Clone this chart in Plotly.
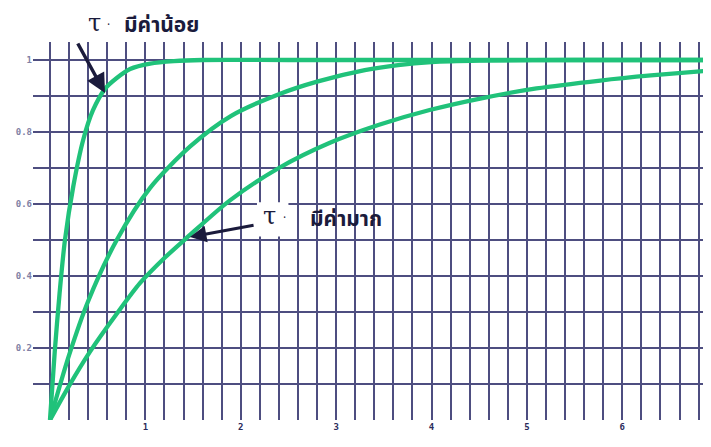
import plotly.graph_objects as go

# ---- data ----
fast_x = [0, 0.05, 0.10, 0.157, 0.245, 0.35, 0.45, 0.577, 0.70, 0.84, 1.05, 1.30, 1.60, 2.5, 4.0, 5.5, 7.0]
fast_y = [0, 0.19, 0.35, 0.50, 0.65, 0.78, 0.86, 0.92, 0.95, 0.975, 0.99, 0.997, 1.0, 1.0, 1.0, 1.0, 1.0]

mid_x = [0, 0.2, 0.4, 0.7, 1.05, 1.47, 1.9, 2.4, 2.8, 3.3, 3.65, 4.0, 4.5, 5.5, 7.0]
mid_y = [0, 0.18, 0.33, 0.50, 0.645, 0.76, 0.845, 0.905, 0.94, 0.972, 0.986, 0.994, 0.998, 1.0, 1.0]

slow_x = [0, 0.2, 0.42, 0.7, 0.943, 1.2, 1.43, 1.887, 2.4, 2.935, 3.45, 3.98, 4.51, 5.1, 5.77, 6.3, 6.93]
slow_y = [0, 0.095, 0.19, 0.295, 0.38, 0.45, 0.505, 0.61, 0.70, 0.77, 0.82, 0.861, 0.893, 0.921, 0.943, 0.957, 0.971]

x_grid = [round(i * 0.2, 1) for i in range(0, 35)]
x_labels = ["1", "2", "3", "4", "5", "6"]
y_grid = [round(i * 0.1, 1) for i in range(0, 11)]
y_labels = {0.2: "0.2", 0.4: "0.4", 0.6: "0.6", 0.8: "0.8", 1.0: "1"}

label_small = "มีค่าน้อย"
label_large = "มีค่ามาก"
tau = "τ"

GREEN = "#20c27a"
GRID = "#4e4e80"
INK = "#1b1b3c"

fig = go.Figure()
for xs, ys in [(slow_x, slow_y), (mid_x, mid_y), (fast_x, fast_y)]:
    fig.add_trace(go.Scatter(x=xs, y=ys, mode="lines",
                             line=dict(color=GREEN, width=4.3, shape="spline", smoothing=0.8),
                             hoverinfo="skip", showlegend=False))

x_text = []
for v in x_grid:
    if abs(v - round(v)) < 1e-9 and 1 <= round(v) <= 6:
        x_text.append("<b>" + x_labels[int(round(v)) - 1] + "</b>")
    else:
        x_text.append("")
y_text = ["<b>" + y_labels[v] + "</b>" if v in y_labels else "" for v in y_grid]

fig.update_xaxes(range=[-0.178, 6.93], tickmode="array", tickvals=x_grid, ticktext=x_text,
                 showgrid=True, gridcolor=GRID, gridwidth=1.7, zeroline=False, showline=False,
                 ticks="", tickfont=dict(family="DejaVu Sans Mono", size=9, color="#2c2c5c"),
                 fixedrange=True)
fig.update_yaxes(range=[0, 1.05], tickmode="array", tickvals=y_grid, ticktext=y_text,
                 showgrid=True, gridcolor=GRID, gridwidth=1.7, zeroline=False, showline=False,
                 ticks="", tickfont=dict(family="DejaVu Sans Mono", size=9, color="#8080a4"),
                 fixedrange=True)

# white patch behind the lower tau
fig.add_shape(type="rect", xref="x", yref="y", x0=2.17, x1=2.50, y0=0.51, y1=0.605,
              fillcolor="white", line=dict(width=0), layer="above")

thai_font = dict(family="Noto Sans Thai, Loma, Garuda, Tahoma, Noto Sans, sans-serif", size=21, color=INK)
tau_font = dict(family="DejaVu Serif, serif", size=24, color=INK)

# top label (above the plotting area -> paper coordinates)
fig.add_annotation(x=0.0914, y=1.05, xref="paper", yref="paper", text=tau, showarrow=False,
                   font=tau_font, xanchor="center", yanchor="middle")
fig.add_annotation(x=0.112, y=1.045, xref="paper", yref="paper", text="·", showarrow=False,
                   font=dict(size=12, color=INK), xanchor="center", yanchor="middle")
fig.add_annotation(x=0.189, y=1.043, xref="paper", yref="paper", text="<b>" + label_small + "</b>",
                   showarrow=False, font=thai_font, xanchor="center", yanchor="middle")
fig.add_annotation(x=0.577, y=0.908, ax=0.283, ay=1.05, xref="x", yref="y", axref="x", ayref="y",
                   text="", showarrow=True, arrowhead=2, arrowsize=1.1, arrowwidth=3.5, arrowcolor=INK)

fig.add_annotation(x=2.30, y=0.567, xref="x", yref="y", text=tau, showarrow=False, font=tau_font)
fig.add_annotation(x=2.46, y=0.562, xref="x", yref="y", text="·", showarrow=False,
                   font=dict(size=12, color=INK))
fig.add_annotation(x=3.10, y=0.558, xref="x", yref="y", text="<b>" + label_large + "</b>",
                   showarrow=False, font=thai_font)
fig.add_annotation(x=1.467, y=0.508, ax=2.15, ay=0.542, xref="x", yref="y", axref="x", ayref="y",
                   text="", showarrow=True, arrowhead=2, arrowsize=1.1, arrowwidth=3.0, arrowcolor=INK)

# the page body adds an 8 px offset; margins compensate so the plot sits where it does in the reference
fig.update_layout(width=711, height=447, autosize=False,
                  margin=dict(l=25, r=8, t=34, b=35),
                  paper_bgcolor="white", plot_bgcolor="white",
                  showlegend=False, hovermode=False)

fig.write_html("out.html", config={"displayModeBar": False})
